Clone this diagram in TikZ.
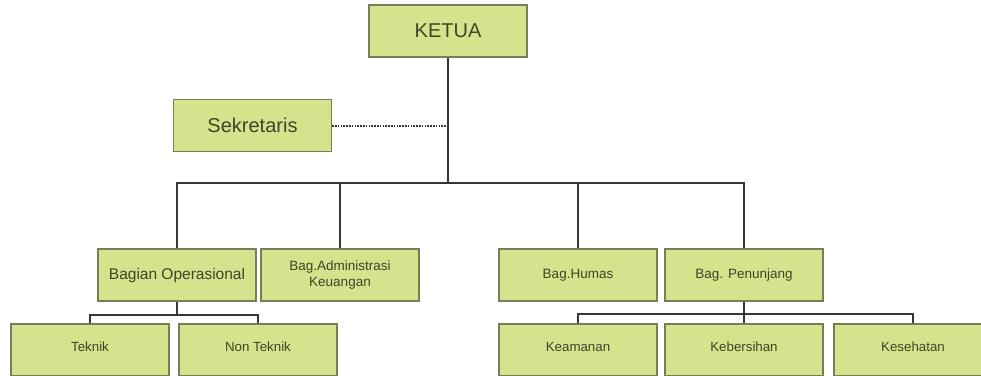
\documentclass[tikz,border=0pt]{standalone}
\usepackage{fontspec}
\setmainfont{Liberation Sans}
\usepackage{tikz}
\usetikzlibrary{positioning}
\definecolor{boxfill}{RGB}{215,226,140}
\definecolor{boxline}{RGB}{118,128,88}
\definecolor{boxtext}{RGB}{60,70,40}
\definecolor{linkline}{RGB}{55,55,55}

\begin{document}
\begin{tikzpicture}[x=1pt,y=-1pt,
                box/.style={draw=boxline,fill=boxfill,line width=1.5pt,text=boxtext,
                            minimum width=158pt,minimum height=52pt,align=center,inner sep=1pt},
                big/.style={font=\fontsize{20}{22}\selectfont},
                mid/.style={font=\fontsize{13.5}{16}\selectfont},
                link/.style={draw=linkline,line width=2pt}
            ]
                \clip (0,0) rectangle (981,375);
                \node [box,big] (ketua) at (448,31) {KETUA};
                \node [box,big] (sekr) at (252.5,125.5) {Sekretaris};
                \node [box,font=\fontsize{15.5}{18}\selectfont] (opr) at (177,275) {Bagian Operasional};
                \node [box,mid] (adm) at (340,275) {Bag.Administrasi\\Keuangan};
                \node [box,mid] (hms) at (578,275) {Bag.Humas};
                \node [box,mid] (pnj) at (744,275) {Bag. Penunjang};
                \foreach \name/\x/\txt in {tek/90/Teknik,ntek/258/Non Teknik,aman/578/Keamanan,bersih/744/Kebersihan,sehat/913/Kesehatan} {
                    \node [box,font=\fontsize{13.3}{15}\selectfont,text depth=6pt] (\name) at (\x,350) {\txt};
                }
                \coordinate (bus) at (448,183);
                \coordinate (dot) at (448,126);
                \coordinate (oprbus) at (177,315);
                \coordinate (pnjbus) at (744,314);
                % ketua ke bagian
                \draw [link] (ketua.south) -- (bus);
                \draw [link] (opr.north) |- (bus) -| (pnj.north);
                \draw [link] (adm.north) -- (adm.north |- bus);
                \draw [link] (hms.north) -- (hms.north |- bus);
                \draw [draw=linkline,line width=2pt,dash pattern=on 1.5pt off 1.3pt] (sekr.east |- dot) -- (dot);
                % sub bagian
                \draw [link] (opr.south) -- (oprbus);
                \draw [link] (tek.north) |- (oprbus) -| (ntek.north);
                \draw [link] (pnj.south) -- (bersih.north);
                \draw [link] (aman.north) |- (pnjbus) -| (sehat.north);
            \end{tikzpicture}
\end{document}
